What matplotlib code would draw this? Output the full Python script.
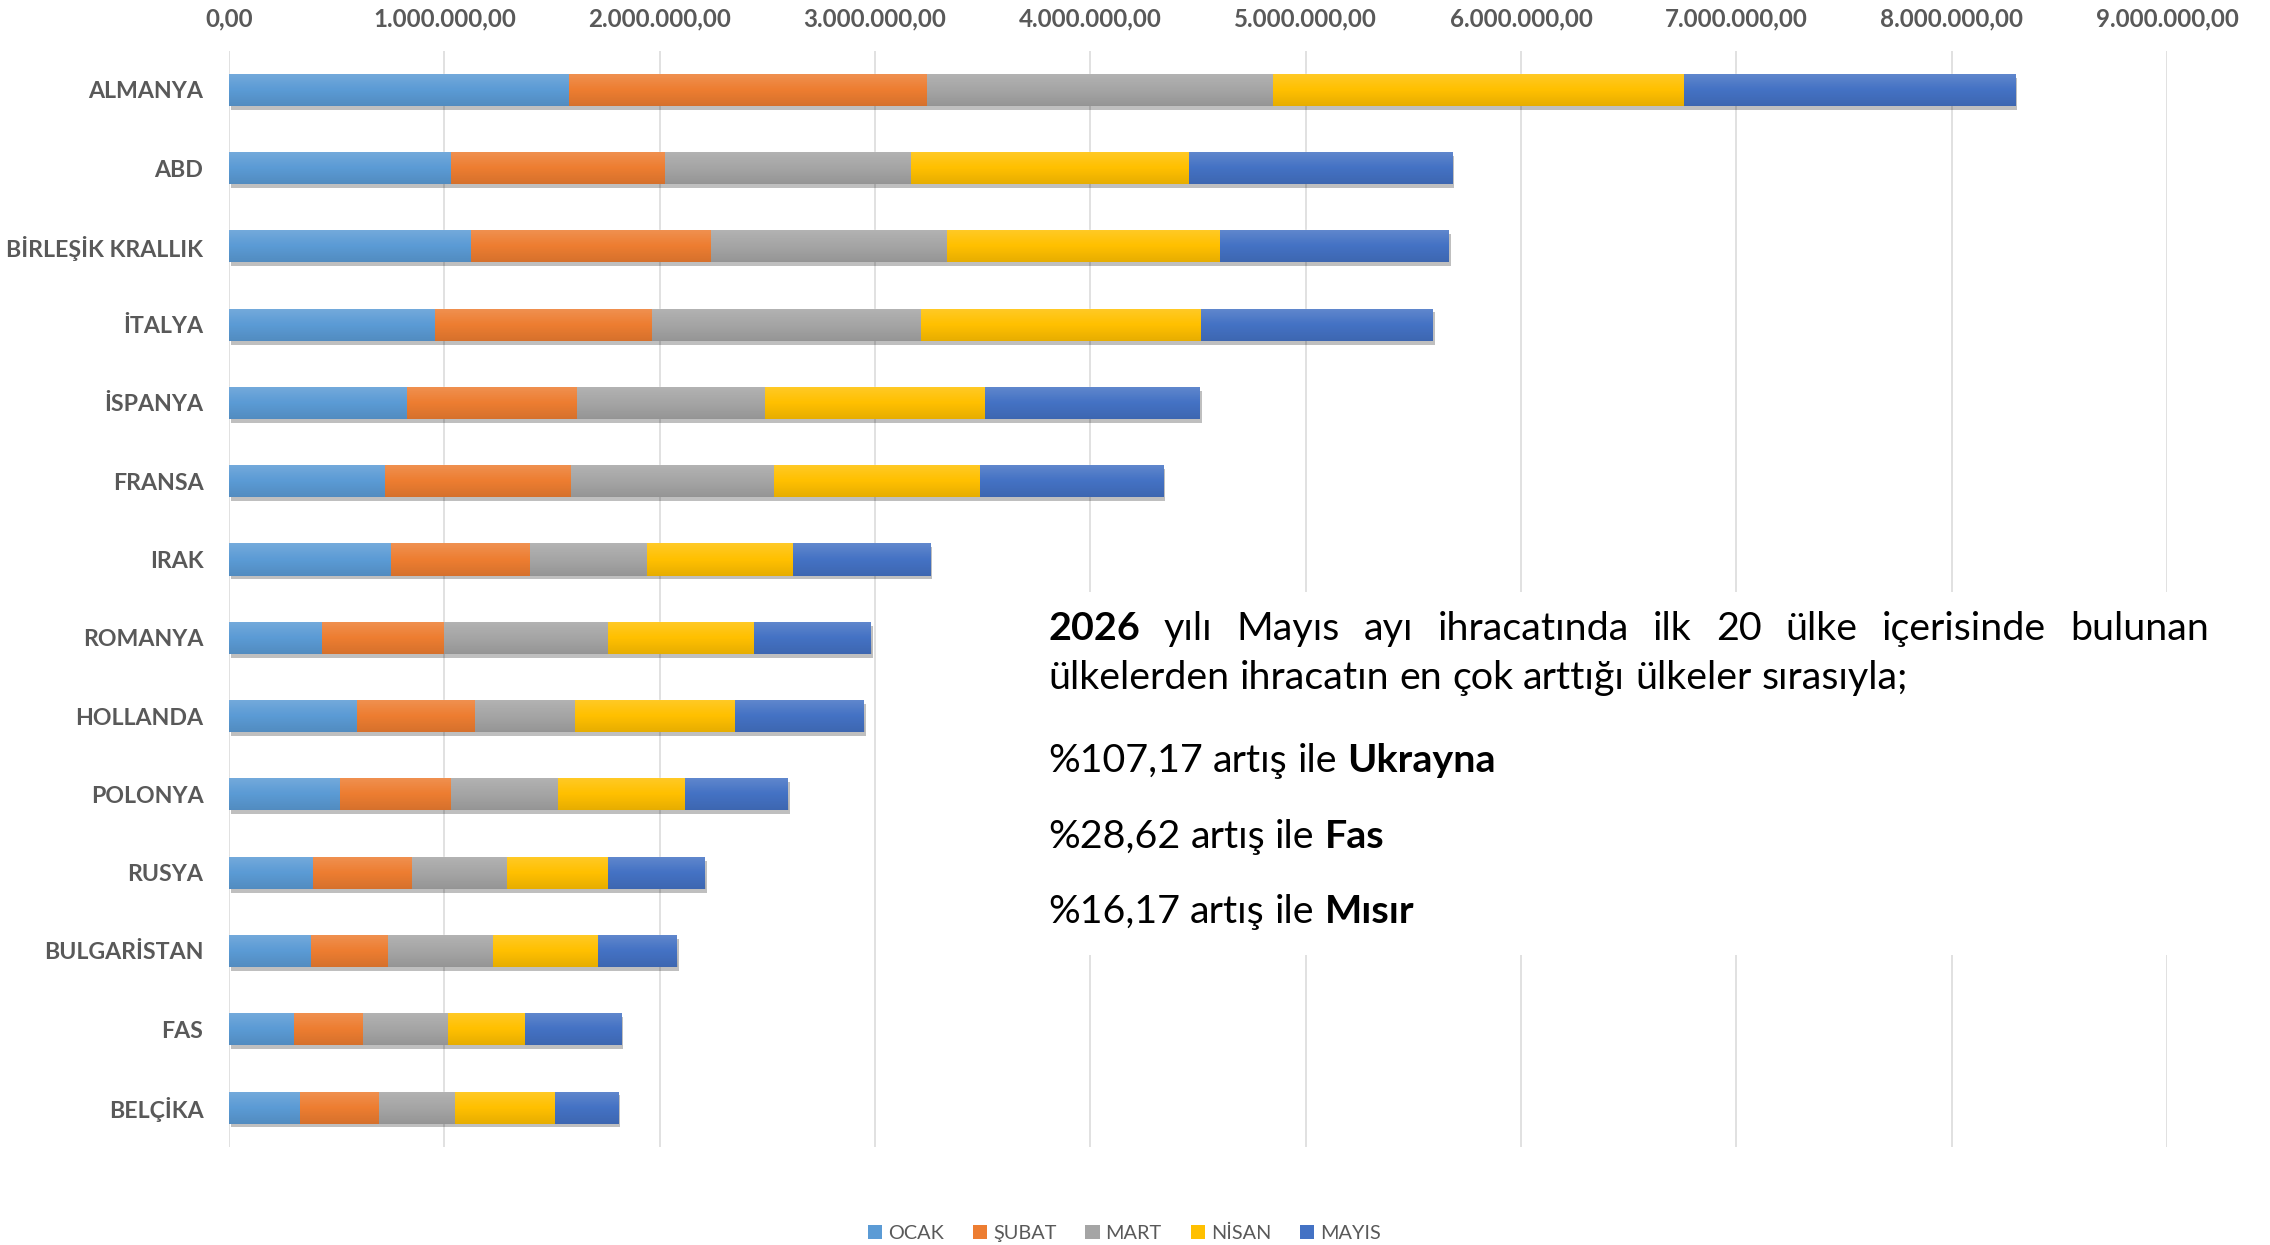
import matplotlib

matplotlib.use("Agg")

import matplotlib.pyplot as plt
import numpy as np
from matplotlib import patheffects as pe
from matplotlib.patches import Patch, Rectangle
from matplotlib.ticker import FuncFormatter, MultipleLocator

# ---- veriler (resimden okunan aylik ihracat degerleri) ----
ULKELER = ["ALMANYA", "ABD", "BİRLEŞİK KRALLIK", "İTALYA", "İSPANYA", "FRANSA", "IRAK",
           "ROMANYA", "HOLLANDA", "POLONYA", "RUSYA", "BULGARİSTAN", "FAS", "BELÇİKA"]
AYLAR = ["OCAK", "ŞUBAT", "MART", "NİSAN", "MAYIS"]

OCAK = [1_577_000, 1_031_000, 1_126_000, 956_000, 826_000, 724_000, 751_000,
        430_000, 594_000, 515_000, 389_000, 379_000, 300_000, 331_000]
SUBAT = [1_665_000, 996_000, 1_113_000, 1_010_000, 792_000, 866_000, 648_000,
         567_000, 549_000, 516_000, 461_000, 358_000, 321_000, 365_000]
MART = [1_608_000, 1_140_000, 1_095_000, 1_249_000, 870_000, 942_000, 540_000,
        761_000, 465_000, 498_000, 440_000, 488_000, 396_000, 352_000]
NISAN = [1_908_000, 1_292_000, 1_269_000, 1_301_000, 1_024_000, 956_000, 679_000,
         679_000, 740_000, 590_000, 471_000, 488_000, 358_000, 467_000]
MAYIS = [1_539_000, 1_224_000, 1_062_000, 1_075_000, 997_000, 853_000, 641_000,
         546_000, 601_000, 478_000, 451_000, 369_000, 448_000, 294_000]

RENKLER = ["#5B9BD5", "#ED7D31", "#A5A5A5", "#FFC000", "#4472C4"]
GRI = "#595959"

# metin kutusu: (metin, kalin mi) parcalari
SATIRLAR = [
    [("2026", True), ("yılı Mayıs ayı ihracatında ilk 20 ülke içerisinde bulunan", False)],
    [("ülkelerden ihracatın en çok arttığı ülkeler sırasıyla;", False)],
    [("%107,17 artış ile", False), ("Ukrayna", True)],
    [("%28,62 artış ile", False), ("Fas", True)],
    [("%16,17 artış ile", False), ("Mısır", True)],
]

W, H = 2270, 1245
plt.rcParams["font.family"] = ["Lato", "DejaVu Sans"]

fig = plt.figure(figsize=(W / 100, H / 100), dpi=100)
ax = fig.add_axes([229 / W, 1 - 1146.7 / H, (2167 - 229) / W, (1146.7 - 50.6) / H])

y = np.arange(len(ULKELER))
sol = np.zeros(len(ULKELER))
golge = [pe.SimplePatchShadow(offset=(1.2, -2.8), shadow_rgbFace="k", alpha=0.25), pe.Normal()]
for ad, seri, renk in zip(AYLAR, [OCAK, SUBAT, MART, NISAN, MAYIS], RENKLER):
    d = np.asarray(seri, dtype=float)
    cubuklar = ax.barh(y, d, left=sol, height=0.41, color=renk, label=ad, zorder=3)
    for c in cubuklar:
        c.set_path_effects(golge)
    sol += d

# hafif dikey gecis (ustte acik, altta koyu)
t = np.linspace(0, 1, 64)
gecis = np.zeros((64, 2, 4))
gecis[:, :, :3] = np.where(t[:, None, None] < 0.5, 1.0, 0.0)
gecis[:, :, 3] = (np.abs(t - 0.5) * 2 * np.where(t < 0.5, 0.16, 0.10))[:, None]
for i, toplam in enumerate(sol):
    ax.imshow(gecis, extent=(0, toplam, i + 0.205, i - 0.205), aspect="auto",
              origin="upper", zorder=4, interpolation="bilinear")


def bicim(v, _):
    s = f"{v:,.2f}"
    return s.replace(",", "X").replace(".", ",").replace("X", ".")


ax.set_xlim(0, 9_000_000)
ax.set_ylim(len(ULKELER) - 0.5, -0.5)
ax.xaxis.set_major_locator(MultipleLocator(1_000_000))
ax.xaxis.set_major_formatter(FuncFormatter(bicim))
ax.xaxis.tick_top()
ax.set_yticks(y)
ax.set_yticklabels(ULKELER)
ax.tick_params(axis="x", length=0, pad=14.5, labelsize=17.4, labelcolor=GRI)
ax.tick_params(axis="y", length=0, pad=18.5, labelsize=16.7, labelcolor=GRI)
for lbl in ax.get_xticklabels() + ax.get_yticklabels():
    lbl.set_fontweight("bold")
ax.grid(axis="x", color="#D9D9D9", linewidth=1.1, zorder=0)
ax.set_axisbelow(True)
for s in ax.spines.values():
    s.set_visible(False)

# metin kutusunun beyaz zemini
fig.patches.append(Rectangle((1030 / W, 1 - 955 / H), 1210 / W, 363 / H,
                             transform=fig.transFigure, facecolor="white",
                             edgecolor="none", zorder=2))

renderer = fig.canvas.get_renderer()


def genislik(metin, kalin, boyut):
    tt = fig.text(0, 0, metin, fontsize=boyut, fontweight="bold" if kalin else "normal")
    w = tt.get_window_extent(renderer).width
    tt.remove()
    return w


def kelimeler(satir):
    out = []
    for metin, kalin in satir:
        out += [(k, kalin) for k in metin.split()]
    return out


# yazi boyutunu ikinci satirin genisligine gore ayarla
b0 = 20
bosluk0 = genislik("a a", False, b0) - genislik("aa", False, b0)
k2 = kelimeler(SATIRLAR[1])
w2 = sum(genislik(k, kb, b0) for k, kb in k2) + bosluk0 * (len(k2) - 1)
BOYUT = b0 * 865 / w2
bosluk = genislik("a a", False, BOYUT) - genislik("aa", False, BOYUT)

x0, x1 = 1048, 2209
tabanlar = [640, 689, 772, 848, 923]
for j, (satir, taban) in enumerate(zip(SATIRLAR, tabanlar)):
    ks = kelimeler(satir)
    ws = [genislik(k, kb, BOYUT) for k, kb in ks]
    ara = (x1 - x0 - sum(ws)) / (len(ks) - 1) if j == 0 else bosluk
    x = x0
    for (k, kb), w in zip(ks, ws):
        fig.text(x / W, 1 - taban / H, k, fontsize=BOYUT, va="baseline", ha="left",
                 fontweight="bold" if kb else "normal", color="black", zorder=5)
        x += w + ara

tutamaclar = [Patch(facecolor=r, edgecolor="none") for r in RENKLER]
leg = fig.legend(tutamaclar, AYLAR, loc="center", bbox_to_anchor=(0.4954, 0.0091),
                 bbox_transform=fig.transFigure, ncol=5, frameon=False, fontsize=14.3,
                 handlelength=0.72, handleheight=0.72, handletextpad=0.3,
                 columnspacing=1.45, borderpad=0, borderaxespad=0)
for tx in leg.get_texts():
    tx.set_color(GRI)

fig.savefig("out.png", dpi=100)
